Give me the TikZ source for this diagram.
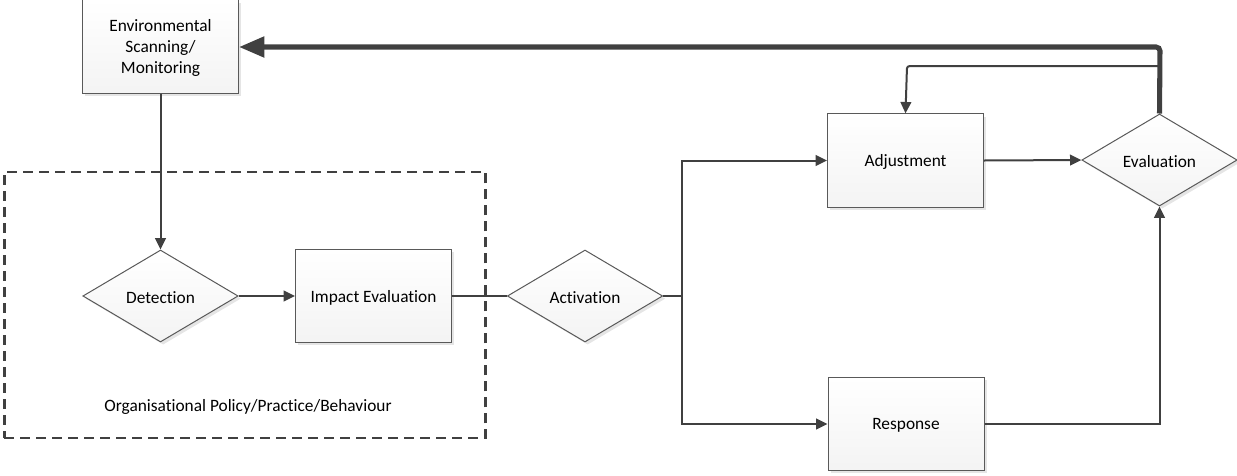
\documentclass[tikz,border=0pt]{standalone}
\usepackage{fontspec}
\setmainfont[Ligatures={NoCommon}]{Carlito}
\usetikzlibrary{shapes.geometric,arrows.meta,shadows}
\definecolor{ln}{HTML}{404040}
\definecolor{bd}{HTML}{595959}
\begin{document}
\begin{tikzpicture}[x=0.75pt,y=-0.75pt,
  every node/.style={font=\fontsize{13}{15.5}\selectfont, text=black},
  shp/.style={draw=bd, line width=0.75pt, top color=white, bottom color=gray!9,
    drop shadow={shadow xshift=2pt, shadow yshift=-2pt, fill=black, opacity=0.1}, inner sep=0pt},
  boxn/.style={shp, rectangle, minimum width=117pt, minimum height=70pt, align=center},
  dia/.style={shp, diamond, minimum width=116.5pt, minimum height=69pt},
  conn/.style={draw=ln, line width=1.5pt},
  arr/.style={conn, -{Triangle[length=8.5pt,width=8pt]}},
  thick arr/.style={draw=ln, line width=3.8pt, -{Triangle[length=19pt,width=15pt]}}
]
\useasboundingbox (0,0) rectangle (1237,475);
% dashed group
\node[draw=ln, line width=2pt, dash pattern=on 7.5pt off 4.5pt, minimum width=361pt, minimum height=199.5pt, inner sep=0pt] (grp) at (245,305) {};
\node (grplabel) at (248,407) {Organisational Policy/Practice/Behaviour};
% nodes
\node[boxn] (env) at (160.5,46.5) {};
\node[align=center] (envtext) at (160.5,48) {Environmental\\Scanning/\\Monitoring};
\node[dia] (det) at (160.5,296) {};
\node (dettext) at (160.5,297.5) {Detection};
\node[boxn] (imp) at (373.5,296) {};
\node (imptext) at (373.5,297.5) {Impact Evaluation};
\node[dia] (act) at (585,296) {};
\node (acttext) at (585,297.5) {Activation};
\node[boxn] (adj) at (905.5,160.5) {};
\node (adjtext) at (905.5,162) {Adjustment};
\node[dia] (ev) at (1159.5,160) {};
\node (evtext) at (1159.5,161.5) {Evaluation};
\node[boxn] (resp) at (906,424) {};
\node (resptext) at (906,425.5) {Response};
% junction coordinates
\coordinate (j) at (682,296);
\coordinate (tl) at (1160,47);
\coordinate (lp) at (907,66);
% connectors
\draw[arr] (env.south) -- (det.north);
\draw[arr] (det.east) -- (imp.west);
\draw[conn] (imp.east) -- (act.west);
\draw[conn] (act.east) -- (j);
\draw[arr] (j) |- (adj.west);
\draw[arr] (j) |- (resp.west);
\draw[arr] (adj.east) -- (ev.west);
\draw[arr] (resp.east) -| (ev.south);
\draw[thick arr, rounded corners=3pt] (ev.north) -- (tl) -- (env.east |- tl);
\draw[arr, rounded corners=2pt] (ev.north |- lp) -- (lp) -- (adj.north);
\end{tikzpicture}
\end{document}
